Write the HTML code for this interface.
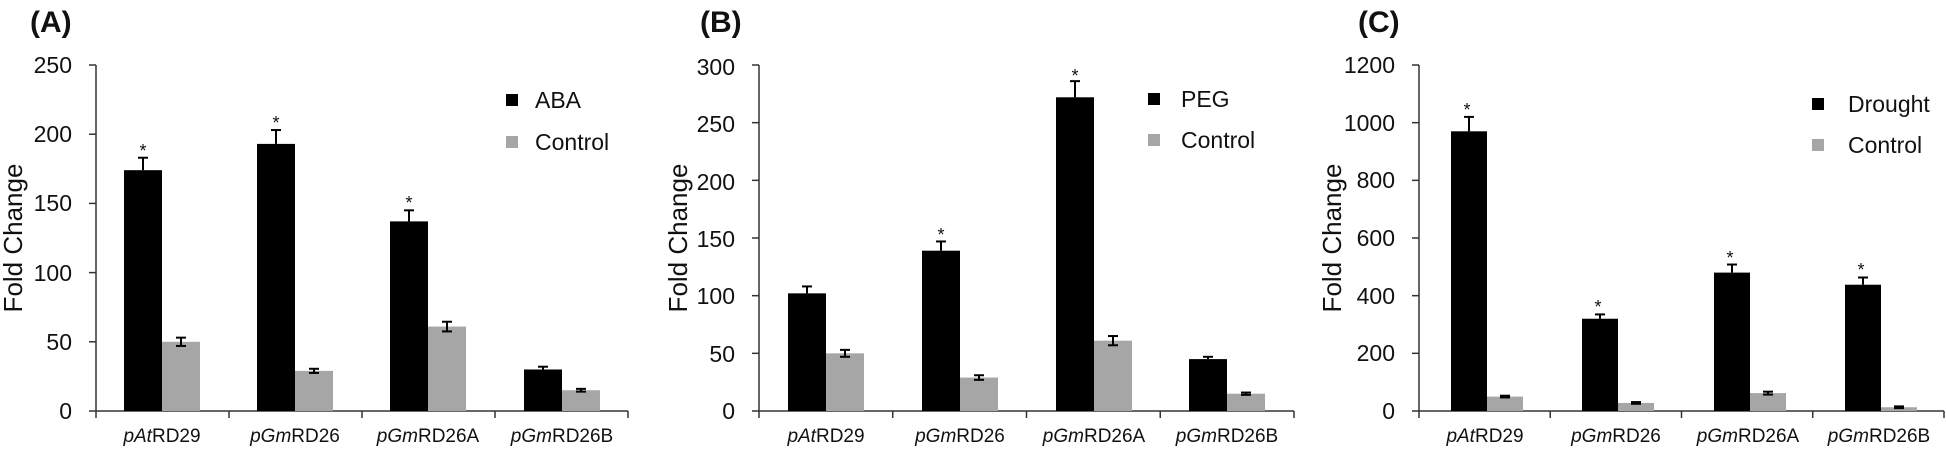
<!DOCTYPE html>
<html><head><meta charset="utf-8"><style>
html,body{margin:0;padding:0;background:#fff;}
svg{display:block;font-family:"Liberation Sans",Arial,sans-serif;}
.t{font-size:23px;fill:#111;}
.yt{font-size:26px;fill:#111;}
.x{font-size:19px;fill:#111;}
.s{font-size:18px;fill:#111;}
.h{font-size:30px;font-weight:bold;fill:#111;}
</style></head><body>
<svg id="c" width="1946" height="449" viewBox="0 0 1946 449" xmlns="http://www.w3.org/2000/svg">
<g id="bars"></g>
<text class="h" x="30" y="32">(A)</text>
<text class="h" x="700" y="32">(B)</text>
<text class="h" x="1358" y="32">(C)</text>
<text class="yt" transform="translate(22,238) rotate(-90)" text-anchor="middle">Fold  Change</text>
<text class="yt" transform="translate(687,238) rotate(-90)" text-anchor="middle">Fold  Change</text>
<text class="yt" transform="translate(1341,238) rotate(-90)" text-anchor="middle">Fold  Change</text>
<g class="t" text-anchor="end">
<text x="72" y="419">0</text><text x="72" y="350">50</text><text x="72" y="281">100</text><text x="72" y="211">150</text><text x="72" y="142">200</text><text x="72" y="73">250</text>
<text x="735" y="419">0</text><text x="735" y="362">50</text><text x="735" y="304">100</text><text x="735" y="247">150</text><text x="735" y="190">200</text><text x="735" y="132">250</text><text x="735" y="75">300</text>
<text x="1395" y="419">0</text><text x="1395" y="361">200</text><text x="1395" y="304">400</text><text x="1395" y="246">600</text><text x="1395" y="188">800</text><text x="1395" y="131">1000</text><text x="1395" y="73">1200</text>
</g>
<g class="x" text-anchor="middle">
<text x="162" y="442"><tspan font-style="italic">pAt</tspan>RD29</text>
<text x="295" y="442"><tspan font-style="italic">pGm</tspan>RD26</text>
<text x="428" y="442"><tspan font-style="italic">pGm</tspan>RD26A</text>
<text x="562" y="442"><tspan font-style="italic">pGm</tspan>RD26B</text>
<text x="826" y="442"><tspan font-style="italic">pAt</tspan>RD29</text>
<text x="960" y="442"><tspan font-style="italic">pGm</tspan>RD26</text>
<text x="1094" y="442"><tspan font-style="italic">pGm</tspan>RD26A</text>
<text x="1227" y="442"><tspan font-style="italic">pGm</tspan>RD26B</text>
<text x="1485" y="442"><tspan font-style="italic">pAt</tspan>RD29</text>
<text x="1616" y="442"><tspan font-style="italic">pGm</tspan>RD26</text>
<text x="1748" y="442"><tspan font-style="italic">pGm</tspan>RD26A</text>
<text x="1879" y="442"><tspan font-style="italic">pGm</tspan>RD26B</text>
</g>
<g class="s" text-anchor="middle">
<text x="143" y="157">*</text><text x="276" y="129">*</text><text x="409" y="209">*</text>
<text x="941" y="241">*</text><text x="1075" y="82">*</text>
<text x="1467" y="116">*</text><text x="1598" y="313">*</text><text x="1730" y="264">*</text><text x="1861" y="276">*</text>
</g>
<rect x="506" y="94" width="12" height="12" fill="#000"/><text class="t" x="535" y="108">ABA</text>
<rect x="506" y="136" width="12" height="12" fill="#a6a6a6"/><text class="t" x="535" y="150">Control</text>
<rect x="1148" y="93" width="12" height="12" fill="#000"/><text class="t" x="1181" y="107">PEG</text>
<rect x="1148" y="134" width="12" height="12" fill="#a6a6a6"/><text class="t" x="1181" y="148">Control</text>
<rect x="1812" y="98" width="12" height="12" fill="#000"/><text class="t" x="1848" y="112">Drought</text>
<rect x="1812" y="139" width="12" height="12" fill="#a6a6a6"/><text class="t" x="1848" y="153">Control</text>
</svg>
<script>
(function(){
var NS="http://www.w3.org/2000/svg",g=document.getElementById('bars');
function el(n,a){var e=document.createElementNS(NS,n);for(var k in a)e.setAttribute(k,a[k]);g.appendChild(e);return e;}
function line(x1,y1,x2,y2,w,c){el('line',{x1:x1,y1:y1,x2:x2,y2:y2,stroke:c||'#222','stroke-width':w||1.5});}
var panels=[
 {ax:96,end:628,max:250,step:50,cent:[162,295,428,562],bw:38,
  b:[[174,9],[193,10],[137,8],[30,2]],c:[[50,3],[29,1.5],[61,3.5],[15,1]]},
 {ax:759,end:1294,max:300,step:50,cent:[826,960,1094,1227],bw:38,
  b:[[102,6],[139,8],[272,14],[45,2]],c:[[50,3],[29,2],[61,4],[15,1]]},
 {ax:1419,end:1944,max:1200,step:200,cent:[1487,1618,1750,1881],bw:36,
  b:[[970,50],[320,15],[480,28],[438,25]],c:[[50,3],[28,3],[62,5],[13,3]]}
];
var Y0=411,H=346;
panels.forEach(function(p){
  function y(v){return Y0-v*H/p.max;}
  line(p.ax,65,p.ax,Y0,1.5,'#333');
  line(p.ax,Y0,p.end,Y0,1.5,'#333');
  for(var v=0;v<=p.max;v+=p.step)line(p.ax-7,y(v),p.ax,y(v),1.5,'#333');
  var gw=(p.end-p.ax)/4;
  for(var i=0;i<=4;i++)line(p.ax+gw*i,Y0,p.ax+gw*i,Y0+7,1.5,'#333');
  p.cent.forEach(function(c,i){
    var b=p.b[i],k=p.c[i];
    el('rect',{x:c-p.bw,y:y(b[0]),width:p.bw,height:Y0-y(b[0]),fill:'#000'});
    el('rect',{x:c,y:y(k[0]),width:p.bw,height:Y0-y(k[0]),fill:'#a6a6a6'});
    var bx=c-p.bw/2;
    line(bx,y(b[0]),bx,y(b[0]+b[1]),2,'#000');
    line(bx-5,y(b[0]+b[1]),bx+5,y(b[0]+b[1]),2,'#000');
    var cx=c+p.bw/2;
    line(cx,y(k[0]-k[1]),cx,y(k[0]+k[1]),2,'#000');
    line(cx-5,y(k[0]+k[1]),cx+5,y(k[0]+k[1]),2,'#000');
    line(cx-5,y(k[0]-k[1]),cx+5,y(k[0]-k[1]),2,'#000');
  });
});
})();
</script>
</body></html>
